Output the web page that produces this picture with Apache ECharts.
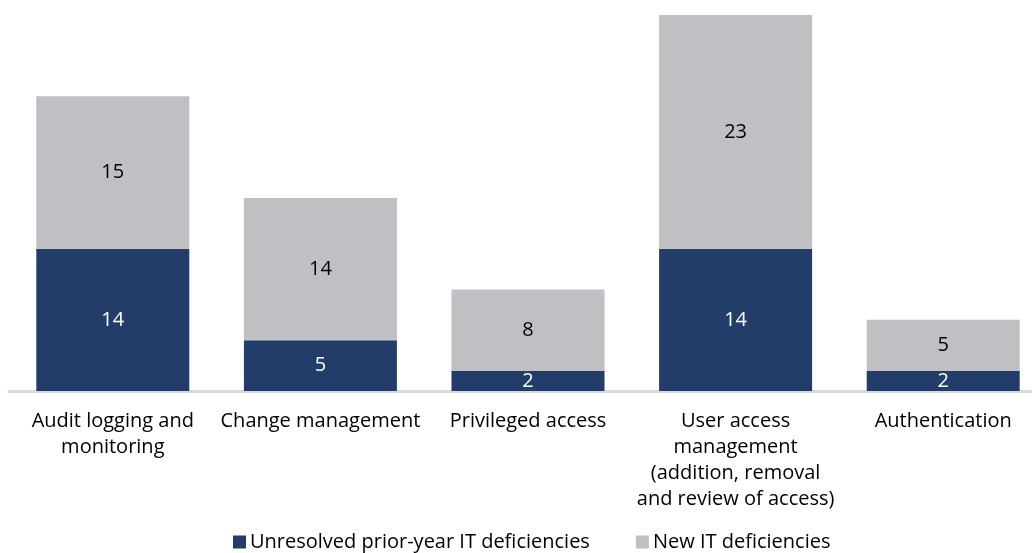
<!DOCTYPE html>
<html>
<head>
<meta charset="utf-8">
<script src="https://cdn.jsdelivr.net/npm/echarts@6/dist/echarts.min.js"></script>
<style>
  html, body { margin: 0; padding: 0; background: #fff; }
  #main { width: 1032px; height: 553px; }
</style>
</head>
<body>
<div id="main"></div>
<script>
// 类别
const categories = [
    'Audit logging and\nmonitoring',
    'Change management',
    'Privileged access',
    'User access\nmanagement\n(addition, removal\nand review of access)',
    'Authentication'
];
// 未解决的往年缺陷
const unresolvedValues = [14, 5, 2, 14, 2];
// 新缺陷
const newValues = [15, 14, 8, 23, 5];
const seriesNames = ['Unresolved prior-year IT deficiencies', 'New IT deficiencies'];

const fontFamily = '"Open Sans", "Noto Sans", sans-serif';

let myChart = echarts.init(document.getElementById('main'));
let option = {
    animation: false,
    textStyle: { fontFamily: fontFamily },
    legend: {
        data: seriesNames,
        bottom: -4,
        left: 228,
        itemWidth: 13,
        itemHeight: 13,
        itemGap: 46,
        icon: 'rect',
        textStyle: { fontSize: 20, color: '#000', fontFamily: fontFamily, padding: [0, 0, 0, -1] }
    },
    grid: {
        left: 9,
        width: 1038,
        top: 15,
        bottom: 162,
        containLabel: false,
        outerBoundsMode: 'none'
    },
    xAxis: {
        type: 'category',
        data: categories,
        axisLine: { show: true, lineStyle: { color: '#D9D9D9', width: 3 } },
        axisTick: { show: false },
        axisLabel: {
            interval: 0,
            margin: 17,
            fontSize: 20,
            lineHeight: 26,
            color: '#000',
            fontFamily: fontFamily
        }
    },
    yAxis: {
        type: 'value',
        min: 0,
        max: 37,
        show: false,
        splitLine: { show: false }
    },
    series: [
        {
            name: seriesNames[0],
            type: 'bar',
            stack: 'total',
            barWidth: 153,
            data: unresolvedValues,
            itemStyle: { color: '#233D6B' },
            label: { show: true, position: 'inside', color: '#fff', fontSize: 20, fontFamily: fontFamily }
        },
        {
            name: seriesNames[1],
            type: 'bar',
            stack: 'total',
            barWidth: 153,
            data: newValues,
            itemStyle: { color: '#BFC0C4' },
            label: { show: true, position: 'inside', color: '#000', fontSize: 20, fontFamily: fontFamily }
        }
    ]
};
myChart.setOption(option);
</script>
</body>
</html>
